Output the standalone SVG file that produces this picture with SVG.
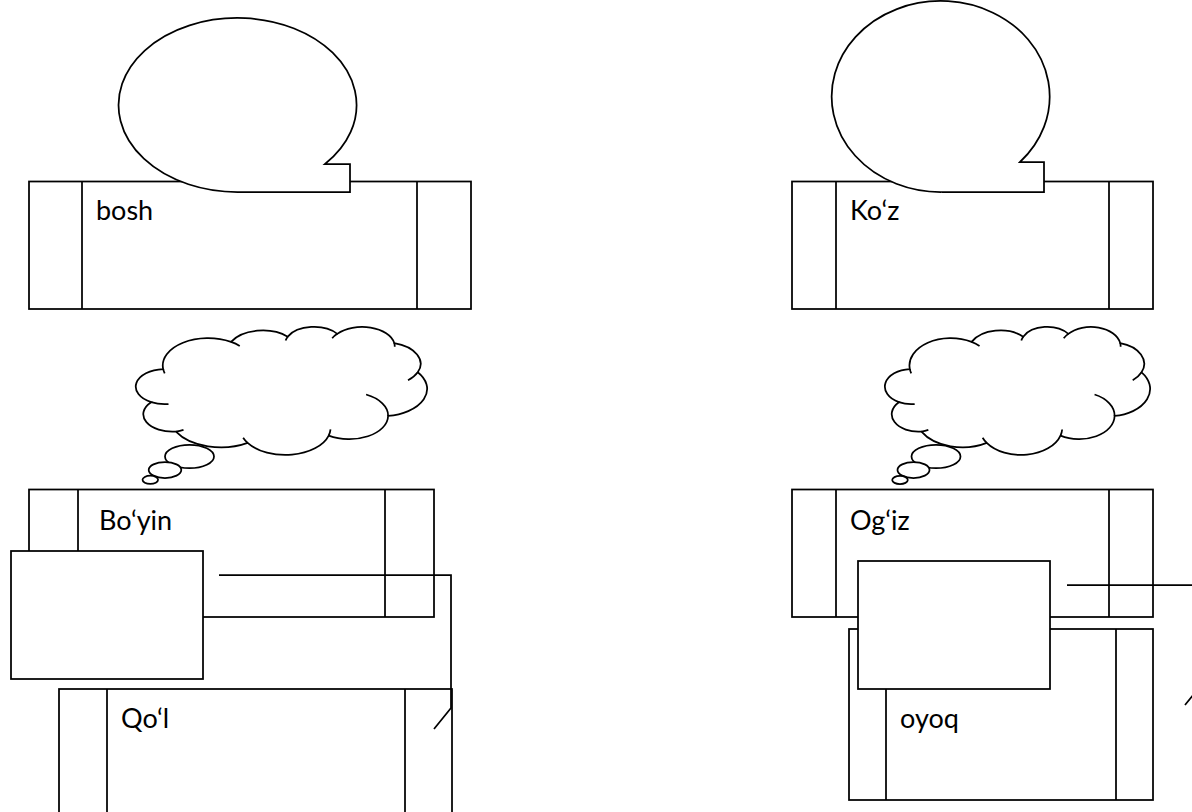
<svg xmlns="http://www.w3.org/2000/svg" xmlns:xlink="http://www.w3.org/1999/xlink" width="1192" height="812" viewBox="0 0 1192 812">
<style>
.s{fill:#fff;stroke:#000;stroke-width:1.75}
.ln{fill:none;stroke:#000;stroke-width:1.75}
.ns{vector-effect:non-scaling-stroke}
.t{font-family:Lato,"Open Sans","Liberation Sans",sans-serif;font-size:27px;fill:#000}
</style>
<defs>
<g id="cloudBody">
<path class="s ns" d="M3900 14370A6753 9190 0 0 1 14005 5202A5333 7267 0 0 1 22455 3431A4365 5945 0 0 1 29833 2480A4857 6595 0 0 1 38319 5575A5333 7273 0 0 1 41819 15459A6775 9220 0 0 1 37404 30201A5785 7867 0 0 1 28556 36811A6752 9215 0 0 1 16481 39265A7720 10543 0 0 1 5804 35469A4360 5918 0 0 1 2113 25547A4345 5945 0 0 1 3900 14370Z"/>
<path class="ln ns" d="M4693 26177A4345 5945 0 0 1 2113 25547M6928 34899A4360 5918 0 0 1 5804 35469M16481 39265A6752 9215 0 0 1 15812 37523M28827 34751A6752 9215 0 0 1 28556 36811M34129 22954A5785 7867 0 0 1 37404 30201M41819 15459A5333 7273 0 0 1 40370 18136M38319 5575A4857 6595 0 0 1 38395 6839M29078 3952A4857 6595 0 0 1 29833 2480M22141 4720A4365 5945 0 0 1 22455 3431M14005 5202A6753 9190 0 0 1 15306 6551M4127 15789A6753 9190 0 0 1 3900 14370"/>
</g>
</defs>

<g id="node-bosh">
<rect class="s" x="29" y="181.5" width="442" height="127.5"/>
<line class="ln" x1="82" y1="181.5" x2="82" y2="309"/>
<line class="ln" x1="417" y1="181.5" x2="417" y2="309"/>
<text class="t" x="96" y="220">bosh</text>
</g>
<g id="bubble-left">
<path class="s" d="M238 192L350 192L350 164L325 164A119 87 0 1 0 238 192Z"/>
</g>

<g id="node-koz">
<rect class="s" x="792" y="181.5" width="361" height="127.5"/>
<line class="ln" x1="836" y1="181.5" x2="836" y2="309"/>
<line class="ln" x1="1109" y1="181.5" x2="1109" y2="309"/>
<text class="t" x="850" y="220">Ko‘z</text>
</g>
<g id="bubble-right">
<path class="s" d="M942 192L1044 192L1044 162L1020 162A109 95.5 0 1 0 942 192Z"/>
</g>

<g id="cloud-left">
<use xlink:href="#cloudBody" href="#cloudBody" transform="translate(137 326.5) scale(0.006713 0.002963)"/>
<ellipse class="s" cx="189.5" cy="456.5" rx="24.5" ry="11.7"/>
<ellipse class="s" cx="165" cy="470" rx="16.3" ry="8"/>
<ellipse class="s" cx="150.3" cy="479.8" rx="7.8" ry="4.1"/>
</g>

<g id="cloud-right">
<use xlink:href="#cloudBody" href="#cloudBody" transform="translate(886 326.5) scale(0.0061111 0.002963)"/>
<ellipse class="s" cx="936" cy="456.5" rx="24.5" ry="11.7"/>
<ellipse class="s" cx="913.5" cy="470" rx="16" ry="8"/>
<ellipse class="s" cx="900" cy="480" rx="7.8" ry="4.1"/>
</g>

<g id="node-boyin">
<rect class="s" x="29" y="489.5" width="405" height="127.5"/>
<line class="ln" x1="78" y1="489.5" x2="78" y2="617"/>
<line class="ln" x1="385" y1="489.5" x2="385" y2="617"/>
<text class="t" x="99" y="530">Bo‘yin</text>
</g>

<g id="node-qol">
<rect class="s" x="59" y="689" width="393" height="150"/>
<line class="ln" x1="107" y1="689" x2="107" y2="839"/>
<line class="ln" x1="405" y1="689" x2="405" y2="839"/>
<text class="t" x="121" y="728">Qo‘l</text>
</g>

<g id="box-left">
<rect class="s" x="11" y="551" width="192" height="128"/>
</g>

<g id="node-ogiz">
<rect class="s" x="792" y="489.5" width="361" height="127.5"/>
<line class="ln" x1="836" y1="489.5" x2="836" y2="617"/>
<line class="ln" x1="1109" y1="489.5" x2="1109" y2="617"/>
<text class="t" x="850" y="530">Og‘iz</text>
</g>

<g id="node-oyoq">
<rect class="s" x="849" y="629" width="304" height="171"/>
<line class="ln" x1="886" y1="629" x2="886" y2="800"/>
<line class="ln" x1="1116" y1="629" x2="1116" y2="800"/>
<text class="t" x="900" y="728">oyoq</text>
</g>

<g id="box-right">
<rect class="s" x="858" y="561" width="192" height="128"/>
</g>

<g id="connectors">
<polyline class="ln" points="219,575 451,575 451,708 434,729"/>
<polyline class="ln" points="1067,585 1202,585 1202,684 1185,705"/>
</g>
</svg>
